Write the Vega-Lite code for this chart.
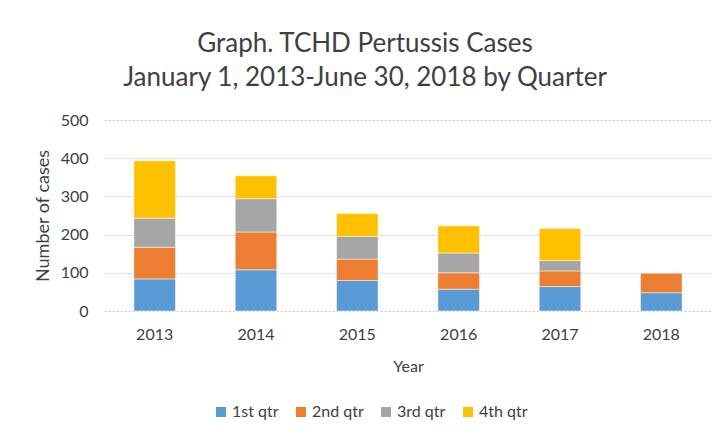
{
  "$schema": "https://vega.github.io/schema/vega-lite/v6.json",
  "width": 608,
  "height": 191,
  "autosize": {"type": "none"},
  "padding": {"left": 104, "top": 120, "right": 16, "bottom": 129},
  "background": "white",
  "title": {
    "text": ["Graph. TCHD Pertussis Cases", "January 1, 2013-June 30, 2018 by Quarter"],
    "anchor": "middle",
    "frame": "group",
    "dx": -43,
    "offset": 21,
    "font": "Lato",
    "fontSize": 26,
    "fontWeight": "normal",
    "color": "#404040",
    "lineHeight": 34
  },
  "data": {
    "values": [
      {"year": "2013", "quarter": "1st qtr", "cases": 84},
      {"year": "2013", "quarter": "2nd qtr", "cases": 83},
      {"year": "2013", "quarter": "3rd qtr", "cases": 76},
      {"year": "2013", "quarter": "4th qtr", "cases": 150},
      {"year": "2014", "quarter": "1st qtr", "cases": 108},
      {"year": "2014", "quarter": "2nd qtr", "cases": 99},
      {"year": "2014", "quarter": "3rd qtr", "cases": 87},
      {"year": "2014", "quarter": "4th qtr", "cases": 60},
      {"year": "2015", "quarter": "1st qtr", "cases": 80},
      {"year": "2015", "quarter": "2nd qtr", "cases": 56},
      {"year": "2015", "quarter": "3rd qtr", "cases": 59},
      {"year": "2015", "quarter": "4th qtr", "cases": 60},
      {"year": "2016", "quarter": "1st qtr", "cases": 57},
      {"year": "2016", "quarter": "2nd qtr", "cases": 43},
      {"year": "2016", "quarter": "3rd qtr", "cases": 52},
      {"year": "2016", "quarter": "4th qtr", "cases": 71},
      {"year": "2017", "quarter": "1st qtr", "cases": 64},
      {"year": "2017", "quarter": "2nd qtr", "cases": 41},
      {"year": "2017", "quarter": "3rd qtr", "cases": 27},
      {"year": "2017", "quarter": "4th qtr", "cases": 84},
      {"year": "2018", "quarter": "1st qtr", "cases": 48},
      {"year": "2018", "quarter": "2nd qtr", "cases": 51}
    ]
  },
  "mark": {"type": "bar", "stroke": "white", "strokeWidth": 0.5},
  "encoding": {
    "x": {
      "field": "year",
      "type": "nominal",
      "scale": {"paddingInner": 0.59, "paddingOuter": 0.295},
      "axis": {
        "title": "Year",
        "labelAngle": 0,
        "domain": false,
        "ticks": false,
        "labelPadding": 15,
        "titlePadding": 16,
        "labelFont": "Lato",
        "labelFontSize": 16,
        "labelColor": "#404040",
        "titleFont": "Lato",
        "titleFontSize": 16,
        "titleFontWeight": "normal",
        "titleColor": "#404040"
      }
    },
    "y": {
      "field": "cases",
      "type": "quantitative",
      "aggregate": "sum",
      "stack": "zero",
      "scale": {"domain": [0, 500], "nice": false},
      "axis": {
        "title": "Number of cases",
        "values": [0, 100, 200, 300, 400, 500],
        "domain": false,
        "ticks": false,
        "labelPadding": 16,
        "titlePadding": 8,
        "gridColor": "#c8c8c8",
        "gridDash": [2, 2],
        "labelFont": "Lato",
        "labelFontSize": 16,
        "labelColor": "#404040",
        "titleFont": "Lato",
        "titleFontSize": 18,
        "titleFontWeight": "normal",
        "titleColor": "#404040"
      }
    },
    "color": {
      "field": "quarter",
      "type": "nominal",
      "scale": {
        "domain": ["1st qtr", "2nd qtr", "3rd qtr", "4th qtr"],
        "range": ["#5B9BD5", "#ED7D31", "#A5A5A5", "#FFC000"]
      },
      "legend": {
        "title": null,
        "orient": "none",
        "legendX": 109,
        "legendY": 284,
        "direction": "horizontal",
        "symbolType": "square",
        "symbolSize": 100,
        "symbolStrokeWidth": 0,
        "labelFont": "Lato",
        "labelFontSize": 16,
        "labelColor": "#404040",
        "columnPadding": 14,
        "labelOffset": 3
      }
    },
    "order": {"field": "quarter", "sort": "ascending"}
  },
  "config": {"view": {"stroke": null}}
}
